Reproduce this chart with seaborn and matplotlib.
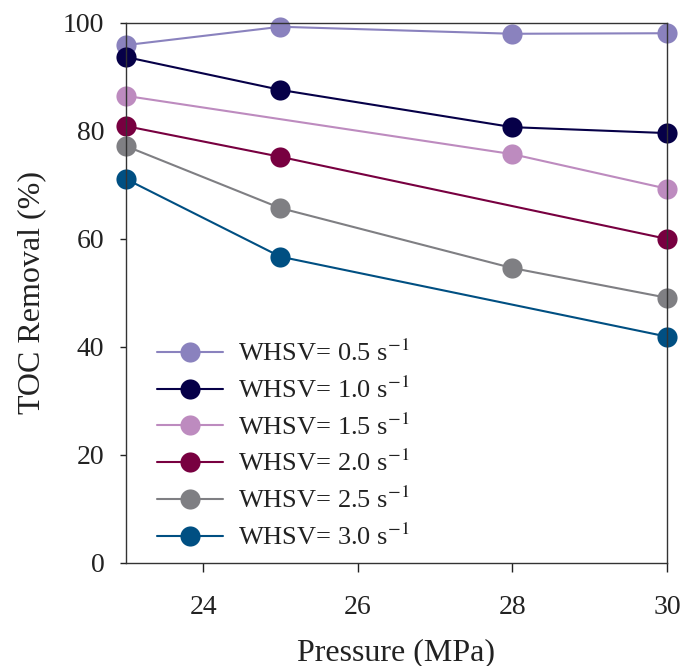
import matplotlib
matplotlib.use("Agg")
import matplotlib.pyplot as plt
import seaborn as sns
import pandas as pd

pressure = [23, 25, 28, 30]
whsv_labels = ["WHSV= 0.5 s$^{-1}$", "WHSV= 1.0 s$^{-1}$", "WHSV= 1.5 s$^{-1}$",
               "WHSV= 2.0 s$^{-1}$", "WHSV= 2.5 s$^{-1}$", "WHSV= 3.0 s$^{-1}$"]
toc_05 = [95.9, 99.3, 98.0, 98.1]
toc_10 = [93.7, 87.6, 80.7, 79.6]
toc_15 = [86.5, None, 75.7, 69.3]
toc_20 = [80.9, 75.2, None, 60.0]
toc_25 = [77.2, 65.7, 54.6, 49.1]
toc_30 = [71.1, 56.7, None, 41.9]
colors = ["#8a82be", "#060048", "#bd8bbf", "#780040", "#7f7f83", "#004f82"]

rows = []
for lab, vals in zip(whsv_labels, [toc_05, toc_10, toc_15, toc_20, toc_25, toc_30]):
    for p, v in zip(pressure, vals):
        if v is not None:
            rows.append({"Pressure": p, "TOC": v, "WHSV": lab})
df = pd.DataFrame(rows)

sns.set_theme(style="ticks")
plt.rcParams["font.family"] = ["Liberation Serif", "DejaVu Serif"]
plt.rcParams["mathtext.fontset"] = "stix"

fig = plt.figure(figsize=(6.84, 6.66), dpi=100)
ax = fig.add_axes([0.184, 0.155, 0.791, 0.8105])

sns.lineplot(data=df, x="Pressure", y="TOC", hue="WHSV", hue_order=whsv_labels,
             palette=colors, marker="o", markersize=14.5, markeredgewidth=0,
             linewidth=1.5, ax=ax, clip_on=False, sort=True)

ax.set_xlim(23, 30)
ax.set_ylim(0, 100)
ax.set_xticks([24, 26, 28, 30])
ax.set_yticks([0, 20, 40, 60, 80, 100])
ax.tick_params(axis="both", labelsize=20, colors="#222222", width=1.0,
               direction="out", pad=11)
ax.tick_params(axis="x", length=6.5, pad=17)
ax.tick_params(axis="y", length=4.5)
for s in ax.spines.values():
    s.set_color("#333333")
    s.set_linewidth(1.0)
ax.set_xlabel("Pressure (MPa)", fontsize=23, color="#222222", labelpad=13)
ax.set_ylabel("TOC Removal (%)", fontsize=23, color="#222222", labelpad=12)

handles, labels = ax.get_legend_handles_labels()
for h in handles:
    h.set_markersize(14.5)
    h.set_markeredgewidth(0)
    h.set_linewidth(1.5)
leg = ax.legend(handles, labels, loc="lower left", bbox_to_anchor=(0.057, 0.024),
                frameon=False, fontsize=19, handlelength=2.5, handletextpad=0.57,
                labelspacing=0.4, borderpad=0, borderaxespad=0)
for t in leg.get_texts():
    t.set_color("#222222")

fig.savefig("out.png", dpi=100)
